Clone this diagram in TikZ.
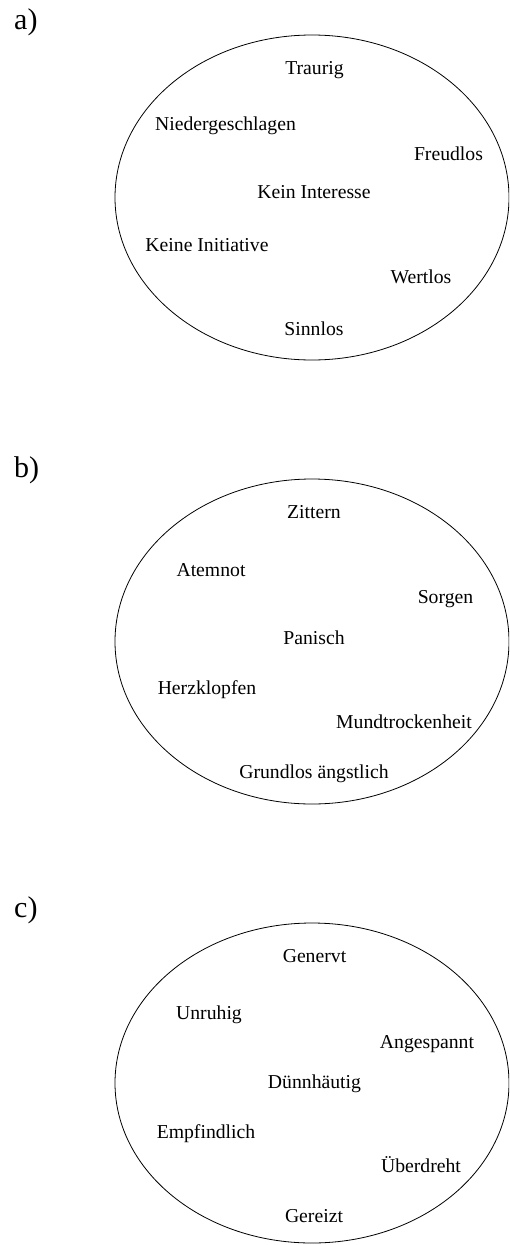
\documentclass[tikz,border=0pt]{standalone}
\usepackage{fontspec}
\setmainfont{Liberation Serif}
\begin{document}
\begin{tikzpicture}[x=1pt,y=-1pt,
  word/.style={inner sep=0pt,anchor=base,font=\fontsize{19.7}{24}\selectfont},
  panel/.style={inner sep=0pt,anchor=base west,font=\fontsize{30}{36}\selectfont},
  oval/.style={draw=black,line width=0.8pt}]
\useasboundingbox (0,0) rectangle (509,1245);
\clip (0,0) rectangle (509,1245);
% a)
\node[panel] (la) at (14,29.5) {a)};
\draw[oval] (312,197.5) ellipse [x radius=197, y radius=162.5];
\node[word] (a1) at (314.5,74) {Traurig};
\node[word] (a2) at (225.5,130) {Niedergeschlagen};
\node[word] (a3) at (448.5,160) {Freudlos};
\node[word] (a4) at (314,198) {Kein Interesse};
\node[word] (a5) at (207,251) {Keine Initiative};
\node[word] (a6) at (421,283) {Wertlos};
\node[word] (a7) at (314,335) {Sinnlos};
% b)
\node[panel] (lb) at (14,477) {b)};
\draw[oval] (312,641.5) ellipse [x radius=197, y radius=162.5];
\node[word] (b1) at (314,518) {Zittern};
\node[word] (b2) at (211,576) {Atemnot};
\node[word] (b3) at (445.5,603) {Sorgen};
\node[word] (b4) at (314,644) {Panisch};
\node[word] (b5) at (207,694) {Herzklopfen};
\node[word] (b6) at (404,728) {Mundtrockenheit};
\node[word] (b7) at (314,778) {Grundlos ängstlich};
% c)
\node[panel] (lc) at (14,917) {c)};
\draw[oval] (312,1083) ellipse [x radius=197, y radius=160];
\node[word] (c1) at (314.5,962) {Genervt};
\node[word] (c2) at (209,1019) {Unruhig};
\node[word] (c3) at (427,1048) {Angespannt};
\node[word] (c4) at (314.5,1088) {Dünnhäutig};
\node[word] (c5) at (206,1138) {Empfindlich};
\node[word] (c6) at (421,1172) {Überdreht};
\node[word] (c7) at (314,1222) {Gereizt};
\end{tikzpicture}
\end{document}
